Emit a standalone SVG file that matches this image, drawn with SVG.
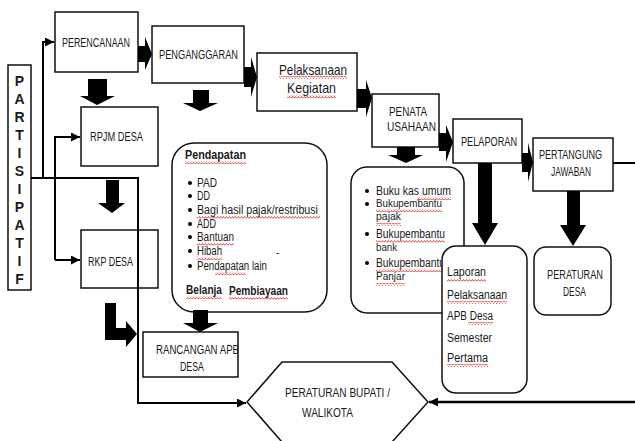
<svg xmlns="http://www.w3.org/2000/svg" width="635" height="441" viewBox="0 0 635 441">
<style>
.bx{fill:none;stroke:#111;stroke-width:1.5}
.bw{fill:#fff;stroke:#111;stroke-width:1.5}
.t{font-family:"Liberation Sans",Arial,sans-serif;font-size:12px;fill:#1a1a1a}
.s{font-size:10.5px}
.b{font-weight:bold}
.ln{fill:none;stroke:#000;stroke-width:2}
.blk{fill:#000}
.sq{fill:url(#wave)}
</style>
<defs>
<marker id="ah" markerUnits="userSpaceOnUse" markerWidth="9" markerHeight="9" viewBox="0 0 10 10" refX="10" refY="5" orient="auto">
<path d="M0,0 L10,5 L0,10 z" fill="#000"/>
</marker>
<pattern id="wave" patternUnits="userSpaceOnUse" width="3" height="3">
<path d="M0,2.5 L1.5,0.5 L3,2.5" fill="none" stroke="#e02020" stroke-width="0.8"/>
</pattern>
</defs>

<g id="partisipatif">
<rect class="bx" x="8" y="65" width="23" height="225"/>
<g class="t b" style="font-size:14px" text-anchor="middle">
<text x="19.5" y="86">P</text><text x="19.5" y="104">A</text><text x="19.5" y="122">R</text><text x="19.5" y="140">T</text>
<text x="19.5" y="158">I</text><text x="19.5" y="176">S</text><text x="19.5" y="194">I</text><text x="19.5" y="212">P</text>
<text x="19.5" y="230">A</text><text x="19.5" y="248">T</text><text x="19.5" y="266">I</text><text x="19.5" y="284">F</text>
</g>
</g>

<g id="perencanaan">
<rect class="bx" x="55" y="12" width="83" height="60"/>
<text class="t" x="62" y="47" textLength="68" lengthAdjust="spacingAndGlyphs">PERENCANAAN</text>
</g>

<g id="penganggaran">
<rect class="bx" x="152" y="26" width="92" height="57"/>
<text class="t" x="159" y="59" textLength="79" lengthAdjust="spacingAndGlyphs">PENGANGGARAN</text>
</g>

<g id="pelaksanaan">
<rect class="bx" x="257" y="53" width="100" height="58"/>
<text class="t" style="font-size:15px" x="279" y="75" textLength="68" lengthAdjust="spacingAndGlyphs">Pelaksanaan</text>
<text class="t" style="font-size:15px" x="287" y="93" textLength="49" lengthAdjust="spacingAndGlyphs">Kegiatan</text>
<rect class="sq" x="279" y="76" width="68" height="3"/>
<rect class="sq" x="287" y="95" width="49" height="3"/>
</g>

<g id="penata">
<rect class="bx" x="372" y="94" width="67" height="53"/>
<text class="t" x="389" y="116" textLength="38" lengthAdjust="spacingAndGlyphs">PENATA</text>
<text class="t" x="387" y="131" textLength="49" lengthAdjust="spacingAndGlyphs">USAHAAN</text>
</g>

<g id="pelaporan">
<rect class="bx" x="453" y="119" width="69" height="44"/>
<text class="t" x="461" y="146" textLength="56" lengthAdjust="spacingAndGlyphs">PELAPORAN</text>
</g>

<g id="pertanggungjawaban">
<rect class="bx" x="533" y="138" width="80" height="53"/>
<text class="t" x="539" y="159" textLength="63" lengthAdjust="spacingAndGlyphs">PERTANGUNG</text>
<text class="t" x="551" y="176" textLength="40" lengthAdjust="spacingAndGlyphs">JAWABAN</text>
</g>

<g id="rpjm">
<rect class="bx" x="81" y="107" width="77" height="59"/>
<text class="t" x="90" y="141" textLength="53" lengthAdjust="spacingAndGlyphs">RPJM DESA</text>
</g>

<g id="rkp">
<rect class="bx" x="81" y="230" width="77" height="58"/>
<text class="t" x="88" y="266" textLength="45" lengthAdjust="spacingAndGlyphs">RKP DESA</text>
</g>

<g id="anggaran">
<rect class="bx" x="172" y="143" width="155" height="169" rx="22"/>
<text class="t b" x="185" y="159" textLength="61" lengthAdjust="spacingAndGlyphs">Pendapatan</text>
<g class="blk"><circle cx="190" cy="183" r="2"/><circle cx="190" cy="196" r="2"/><circle cx="190" cy="210" r="2"/><circle cx="190" cy="224" r="2"/><circle cx="190" cy="237" r="2"/><circle cx="190" cy="251" r="2"/><circle cx="190" cy="266" r="2"/></g>
<text class="t" x="197" y="187" textLength="20" lengthAdjust="spacingAndGlyphs">PAD</text>
<text class="t" x="197" y="200" textLength="13" lengthAdjust="spacingAndGlyphs">DD</text>
<text class="t" x="197" y="214" textLength="121" lengthAdjust="spacingAndGlyphs">Bagi hasil pajak/restribusi</text>
<text class="t" x="197" y="228" textLength="19" lengthAdjust="spacingAndGlyphs">ADD</text>
<text class="t" x="197" y="241" textLength="37" lengthAdjust="spacingAndGlyphs">Bantuan</text>
<text class="t" x="197" y="255" textLength="25" lengthAdjust="spacingAndGlyphs">Hibah</text>
<text class="t" x="197" y="270" textLength="70" lengthAdjust="spacingAndGlyphs">Pendapatan lain</text>
<text class="t s" x="276" y="256">-</text>
<text class="t b" x="186" y="294" textLength="36" lengthAdjust="spacingAndGlyphs">Belanja</text>
<text class="t b" x="229" y="295" textLength="59" lengthAdjust="spacingAndGlyphs">Pembiayaan</text>
<rect class="sq" x="185" y="161" width="61" height="3"/>
<rect class="sq" x="197" y="216" width="123" height="3"/>
<rect class="sq" x="197" y="243" width="37" height="3"/>
<rect class="sq" x="197" y="257" width="25" height="3"/>
<rect class="sq" x="215" y="272" width="31" height="3"/>
<rect class="sq" x="186" y="296" width="36" height="3"/>
<rect class="sq" x="229" y="297" width="59" height="3"/>
</g>

<g id="buku">
<rect class="bx" x="351" y="167" width="113" height="146" rx="16"/>
<g class="blk"><circle cx="367" cy="191" r="2"/><circle cx="367" cy="204" r="2"/><circle cx="367" cy="234" r="2"/><circle cx="367" cy="263" r="2"/></g>
<text class="t" x="376" y="195" textLength="75" lengthAdjust="spacingAndGlyphs">Buku kas umum</text>
<text class="t s" x="376" y="207" textLength="66" lengthAdjust="spacingAndGlyphs">Bukupembantu</text>
<text class="t s" x="376" y="220" textLength="25" lengthAdjust="spacingAndGlyphs">pajak</text>
<text class="t" x="376" y="238" textLength="69" lengthAdjust="spacingAndGlyphs">Bukupembantu</text>
<text class="t s" x="376" y="251" textLength="21" lengthAdjust="spacingAndGlyphs">bank</text>
<text class="t" x="376" y="267" textLength="69" lengthAdjust="spacingAndGlyphs">Bukupembantu</text>
<text class="t s" x="376" y="280" textLength="29" lengthAdjust="spacingAndGlyphs">Panjar</text>
<rect class="sq" x="417" y="197" width="34" height="3"/>
<rect class="sq" x="376" y="209" width="66" height="3"/>
<rect class="sq" x="376" y="223" width="25" height="3"/>
<rect class="sq" x="376" y="240" width="69" height="3"/>
<rect class="sq" x="376" y="269" width="69" height="3"/>
<rect class="sq" x="376" y="283" width="29" height="3"/>
</g>

<g id="laporan">
<rect class="bw" x="442" y="246" width="85" height="147" rx="14"/>
<text class="t" x="447" y="276" textLength="39" lengthAdjust="spacingAndGlyphs">Laporan</text>
<text class="t" x="447" y="299" textLength="60" lengthAdjust="spacingAndGlyphs">Pelaksanaan</text>
<text class="t" x="447" y="320" textLength="46" lengthAdjust="spacingAndGlyphs">APB Desa</text>
<text class="t" x="447" y="342" textLength="45" lengthAdjust="spacingAndGlyphs">Semester</text>
<text class="t" x="447" y="362" textLength="41" lengthAdjust="spacingAndGlyphs">Pertama</text>
<rect class="sq" x="447" y="279" width="39" height="3"/>
<rect class="sq" x="447" y="301" width="60" height="3"/>
<rect class="sq" x="468" y="322" width="25" height="3"/>
<rect class="sq" x="447" y="364" width="41" height="3"/>
</g>

<g id="perdes">
<rect class="bx" x="534" y="247" width="77" height="68" rx="12"/>
<text class="t" x="547" y="279" textLength="56" lengthAdjust="spacingAndGlyphs">PERATURAN</text>
<text class="t" x="563" y="296" textLength="23" lengthAdjust="spacingAndGlyphs">DESA</text>
</g>

<g id="rancangan">
<rect class="bx" x="143" y="332" width="95" height="45"/>
<text class="t" x="156" y="354" textLength="83" lengthAdjust="spacingAndGlyphs">RANCANGAN  APB</text>
<text class="t" x="180" y="371" textLength="24" lengthAdjust="spacingAndGlyphs">DESA</text>
</g>

<g id="perbup">
<polygon class="bw" points="247,402 282,362 392,362 428,402 392,442 282,442"/>
<text class="t" x="285" y="397" textLength="105" lengthAdjust="spacingAndGlyphs">PERATURAN  BUPATI /</text>
<text class="t" x="302" y="417" textLength="51" lengthAdjust="spacingAndGlyphs">WALIKOTA</text>
</g>

<g id="connectors">
<polyline class="ln" points="31,178 138,178 138,403 246,403" marker-end="url(#ah)"/>
<polyline class="ln" points="43,178 43,42 54,42" marker-end="url(#ah)"/>
<polyline class="ln" points="55,260 55,137 80,137" marker-end="url(#ah)"/>
<polyline class="ln" points="55,260 80,260" marker-end="url(#ah)"/>
<line class="ln" x1="613" y1="163" x2="635" y2="163"/>
<line class="ln" style="stroke-width:2.5" x1="635" y1="402" x2="429" y2="402" marker-end="url(#ah)"/>
<g class="blk">
<polygon points="138,46 145,46 145,37 152,54 145,70 145,62 138,62"/>
<polygon points="244,67 251,67 251,57 257,77 251,97 251,87 244,87"/>
<polygon points="357,89 366,89 366,80 372,98 366,117 366,108 357,108"/>
<polygon points="439,133 446,133 446,125 453,142 446,162 446,151 439,151"/>
<polygon points="522,153 528,153 528,143 533,162 528,182 528,172 522,172"/>
<polygon points="88,79 107,79 107,96 115,96 97,105 80,96 88,96"/>
<polygon points="106,180 119,180 119,203 125,203 112,213 98,203 106,203"/>
<polygon points="193,90 209,90 209,103 218,103 200,111 183,103 193,103"/>
<polygon points="193,310 208,310 208,323 218,323 200,332 183,323 193,323"/>
<polygon points="397,147 415,147 415,155 423,155 406,163 388,155 397,155"/>
<polygon points="478,163 492,163 492,223 498,223 485,245 472,223 478,223"/>
<polygon points="567,191 580,191 580,225 586,225 573,246 560,225 567,225"/>
<polygon points="105,303 116,303 116,328 126,328 126,321 137,334 126,347 126,340 105,340"/>
</g>
</g>
</svg>
